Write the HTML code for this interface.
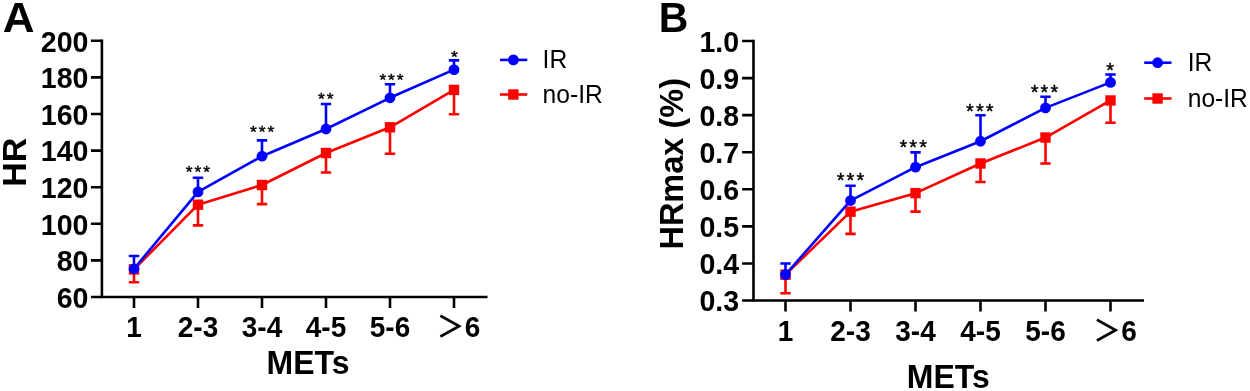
<!DOCTYPE html>
<html><head><meta charset="utf-8"><title>Figure</title>
<style>
html,body{margin:0;padding:0;background:#fff}
svg{display:block}
text{font-family:"Liberation Sans",sans-serif;fill:#000}
.t{font-size:28px;font-weight:700}
.a{font-size:32px;font-weight:700}
.p{font-size:44px;font-weight:700}
.l{font-size:25px}
.s{font-size:21px;stroke:#000;stroke-width:0.4px}
.gt{font-family:"Noto Sans CJK SC","Liberation Sans",sans-serif;font-weight:400;font-size:26.5px;stroke:#000;stroke-width:0.75px}
</style></head><body>
<svg width="1250" height="391" viewBox="0 0 1250 391">
<rect width="1250" height="391" fill="#fff"/>
<path d="M101.9 39.50V297.0H487.5" fill="none" stroke="#000" stroke-width="2.6" stroke-linecap="butt" stroke-linejoin="miter"/>
<path d="M90.90 297.00H101.9M90.90 260.40H101.9M90.90 223.80H101.9M90.90 187.20H101.9M90.90 150.60H101.9M90.90 114.00H101.9M90.90 77.40H101.9M90.90 40.80H101.9M134 297.0V307.90M198 297.0V307.90M262 297.0V307.90M326 297.0V307.90M390 297.0V307.90M454 297.0V307.90" fill="none" stroke="#000" stroke-width="2.6"/>
<text class="t" transform="translate(88.50 307.85) scale(1.02 1.08)" text-anchor="end">60</text>
<text class="t" transform="translate(88.50 271.25) scale(1.02 1.08)" text-anchor="end">80</text>
<text class="t" transform="translate(88.50 234.65) scale(1.02 1.08)" text-anchor="end">100</text>
<text class="t" transform="translate(88.50 198.05) scale(1.02 1.08)" text-anchor="end">120</text>
<text class="t" transform="translate(88.50 161.45) scale(1.02 1.08)" text-anchor="end">140</text>
<text class="t" transform="translate(88.50 124.85) scale(1.02 1.08)" text-anchor="end">160</text>
<text class="t" transform="translate(88.50 88.25) scale(1.02 1.08)" text-anchor="end">180</text>
<text class="t" transform="translate(88.50 51.65) scale(1.02 1.08)" text-anchor="end">200</text>
<text class="t" transform="translate(134.00 336.85) scale(1.0 1.08)" text-anchor="middle">1</text>
<text class="t" transform="translate(198.00 336.85) scale(1.0 1.08)" text-anchor="middle">2-3</text>
<text class="t" transform="translate(262.00 336.85) scale(1.0 1.08)" text-anchor="middle">3-4</text>
<text class="t" transform="translate(326.00 336.85) scale(1.0 1.08)" text-anchor="middle">4-5</text>
<text class="t" transform="translate(390.00 336.85) scale(1.0 1.08)" text-anchor="middle">5-6</text>
<text class="t" transform="translate(458.80 336.85) scale(1.0 1.08)" text-anchor="middle"><tspan class="gt" dy="0.1">＞</tspan><tspan dy="-0.1" dx="1.2">6</tspan></text>
<path d="M134 269.40V282.20M128.8 282.20H139.2M198 204.70V225.40M192.8 225.40H203.2M262 185.00V204.10M256.8 204.10H267.2M326 153.00V172.50M320.8 172.50H331.2M390 127.30V153.70M384.8 153.70H395.2M454 89.90V114.30M448.8 114.30H459.2" fill="none" stroke="#fe0000" stroke-width="2.6"/>
<polyline points="134,269.40 198,204.70 262,185.00 326,153.00 390,127.30 454,89.90" fill="none" stroke="#fe0000" stroke-width="2.6" stroke-linejoin="round"/>
<rect x="128.80" y="264.20" width="10.4" height="10.4" fill="#fe0000"/>
<rect x="192.80" y="199.50" width="10.4" height="10.4" fill="#fe0000"/>
<rect x="256.80" y="179.80" width="10.4" height="10.4" fill="#fe0000"/>
<rect x="320.80" y="147.80" width="10.4" height="10.4" fill="#fe0000"/>
<rect x="384.80" y="122.10" width="10.4" height="10.4" fill="#fe0000"/>
<rect x="448.80" y="84.70" width="10.4" height="10.4" fill="#fe0000"/>
<path d="M134 268.80V256.00M128.8 256.00H139.2M198 191.90V177.80M192.8 177.80H203.2M262 156.20V140.40M256.8 140.40H267.2M326 129.00V104.00M320.8 104.00H331.2M390 97.80V84.20M384.8 84.20H395.2M454 69.60V60.40M448.8 60.40H459.2" fill="none" stroke="#0000fe" stroke-width="2.6"/>
<polyline points="134,268.80 198,191.90 262,156.20 326,129.00 390,97.80 454,69.60" fill="none" stroke="#0000fe" stroke-width="2.6" stroke-linejoin="round"/>
<circle cx="134" cy="268.80" r="5.4" fill="#0000fe"/>
<circle cx="198" cy="191.90" r="5.4" fill="#0000fe"/>
<circle cx="262" cy="156.20" r="5.4" fill="#0000fe"/>
<circle cx="326" cy="129.00" r="5.4" fill="#0000fe"/>
<circle cx="390" cy="97.80" r="5.4" fill="#0000fe"/>
<circle cx="454" cy="69.60" r="5.4" fill="#0000fe"/>
<text class="s" style="font-size:17.4px" x="189.20 197.90 206.60" y="177.75" text-anchor="middle">***</text>
<text class="s" style="font-size:17.4px" x="253.40 262.10 270.80" y="138.45" text-anchor="middle">***</text>
<text class="s" style="font-size:17.4px" x="321.40 330.10" y="104.75" text-anchor="middle">**</text>
<text class="s" style="font-size:17.4px" x="382.80 391.50 400.20" y="85.85" text-anchor="middle">***</text>
<text class="s" style="font-size:17.4px" x="454.50" y="63.05" text-anchor="middle">*</text>
<path d="M500 59.9H527.3" stroke="#0000fe" stroke-width="2.6"/>
<circle cx="513.4" cy="59.9" r="5.4" fill="#0000fe"/>
<text class="l" transform="translate(542.60 68.20) scale(0.985 1)">IR</text>
<path d="M500 94.5H527.3" stroke="#fe0000" stroke-width="2.6"/>
<rect x="508.20" y="89.30" width="10.4" height="10.4" fill="#fe0000"/>
<text class="l" transform="translate(542.60 102.80) scale(0.985 1)">no-IR</text>
<text class="p" transform="translate(2.70 32.40) scale(1 0.985)">A</text>
<text class="a" transform="translate(308.00 374.10) scale(1 1.035)" text-anchor="middle">METs</text>
<text class="a" transform="translate(26.00 162.20) rotate(-90)" text-anchor="middle" style="font-size:34px">HR</text>
<path d="M753.5 39.70V300.55H1144" fill="none" stroke="#000" stroke-width="2.6" stroke-linecap="butt" stroke-linejoin="miter"/>
<path d="M742.10 300.55H753.5M742.10 263.47H753.5M742.10 226.39H753.5M742.10 189.31H753.5M742.10 152.24H753.5M742.10 115.16H753.5M742.10 78.08H753.5M742.10 41.00H753.5M785.5 300.55V311.45M850.5 300.55V311.45M915.5 300.55V311.45M980.5 300.55V311.45M1045.5 300.55V311.45M1110.5 300.55V311.45" fill="none" stroke="#000" stroke-width="2.6"/>
<text class="t" transform="translate(739.10 311.40) scale(1.02 1.08)" text-anchor="end">0.3</text>
<text class="t" transform="translate(739.10 274.32) scale(1.02 1.08)" text-anchor="end">0.4</text>
<text class="t" transform="translate(739.10 237.24) scale(1.02 1.08)" text-anchor="end">0.5</text>
<text class="t" transform="translate(739.10 200.16) scale(1.02 1.08)" text-anchor="end">0.6</text>
<text class="t" transform="translate(739.10 163.09) scale(1.02 1.08)" text-anchor="end">0.7</text>
<text class="t" transform="translate(739.10 126.01) scale(1.02 1.08)" text-anchor="end">0.8</text>
<text class="t" transform="translate(739.10 88.93) scale(1.02 1.08)" text-anchor="end">0.9</text>
<text class="t" transform="translate(739.10 51.85) scale(1.02 1.08)" text-anchor="end">1.0</text>
<text class="t" transform="translate(785.50 341.05) scale(1.0 1.08)" text-anchor="middle">1</text>
<text class="t" transform="translate(850.50 341.05) scale(1.0 1.08)" text-anchor="middle">2-3</text>
<text class="t" transform="translate(915.50 341.05) scale(1.0 1.08)" text-anchor="middle">3-4</text>
<text class="t" transform="translate(980.50 341.05) scale(1.0 1.08)" text-anchor="middle">4-5</text>
<text class="t" transform="translate(1045.50 341.05) scale(1.0 1.08)" text-anchor="middle">5-6</text>
<text class="t" transform="translate(1115.30 341.05) scale(1.0 1.08)" text-anchor="middle"><tspan class="gt" dy="-0.5">＞</tspan><tspan dy="0.5" dx="1.2">6</tspan></text>
<path d="M785.5 274.66V293.19M780.3 293.19H790.7M850.5 211.66V233.89M845.3 233.89H855.7M915.5 193.13V211.66M910.3 211.66H920.7M980.5 163.48V182.01M975.3 182.01H985.7M1045.5 137.54V163.48M1040.3 163.48H1050.7M1110.5 100.48V122.71M1105.3 122.71H1115.7" fill="none" stroke="#fe0000" stroke-width="2.6"/>
<polyline points="785.5,274.66 850.5,211.66 915.5,193.13 980.5,163.48 1045.5,137.54 1110.5,100.48" fill="none" stroke="#fe0000" stroke-width="2.6" stroke-linejoin="round"/>
<rect x="780.30" y="269.46" width="10.4" height="10.4" fill="#fe0000"/>
<rect x="845.30" y="206.46" width="10.4" height="10.4" fill="#fe0000"/>
<rect x="910.30" y="187.93" width="10.4" height="10.4" fill="#fe0000"/>
<rect x="975.30" y="158.28" width="10.4" height="10.4" fill="#fe0000"/>
<rect x="1040.30" y="132.34" width="10.4" height="10.4" fill="#fe0000"/>
<rect x="1105.30" y="95.28" width="10.4" height="10.4" fill="#fe0000"/>
<path d="M785.5 274.66V263.54M780.3 263.54H790.7M850.5 200.54V185.71M845.3 185.71H855.7M915.5 167.18V152.36M910.3 152.36H920.7M980.5 141.24V115.30M975.3 115.30H985.7M1045.5 107.89V96.77M1040.3 96.77H1050.7M1110.5 82.39V74.53M1105.3 74.53H1115.7" fill="none" stroke="#0000fe" stroke-width="2.6"/>
<polyline points="785.5,274.66 850.5,200.54 915.5,167.18 980.5,141.24 1045.5,107.89 1110.5,82.39" fill="none" stroke="#0000fe" stroke-width="2.6" stroke-linejoin="round"/>
<circle cx="785.5" cy="274.66" r="5.4" fill="#0000fe"/>
<circle cx="850.5" cy="200.54" r="5.4" fill="#0000fe"/>
<circle cx="915.5" cy="167.18" r="5.4" fill="#0000fe"/>
<circle cx="980.5" cy="141.24" r="5.4" fill="#0000fe"/>
<circle cx="1045.5" cy="107.89" r="5.4" fill="#0000fe"/>
<circle cx="1110.5" cy="82.39" r="5.4" fill="#0000fe"/>
<text class="s" style="font-size:20px" x="840.60 850.50 860.40" y="186.90" text-anchor="middle">***</text>
<text class="s" style="font-size:20px" x="903.35 913.25 923.15" y="154.10" text-anchor="middle">***</text>
<text class="s" style="font-size:20px" x="969.90 979.80 989.70" y="117.50" text-anchor="middle">***</text>
<text class="s" style="font-size:20px" x="1034.60 1044.50 1054.40" y="98.80" text-anchor="middle">***</text>
<text class="s" style="font-size:20px" x="1110.10" y="76.60" text-anchor="middle">*</text>
<path d="M1144.2 62.7H1171.5" stroke="#0000fe" stroke-width="2.6"/>
<circle cx="1157.6000000000001" cy="62.7" r="5.4" fill="#0000fe"/>
<text class="l" transform="translate(1187.70 71.00) scale(0.985 1)">IR</text>
<path d="M1144.2 98.5H1171.5" stroke="#fe0000" stroke-width="2.6"/>
<rect x="1152.40" y="93.30" width="10.4" height="10.4" fill="#fe0000"/>
<text class="l" transform="translate(1187.70 106.80) scale(0.985 1)">no-IR</text>
<text class="p" transform="translate(658.80 32.40) scale(0.93 0.985)">B</text>
<text class="a" transform="translate(948.30 387.70) scale(1 1.035)" text-anchor="middle">METs</text>
<text class="a" transform="translate(682.80 163.80) rotate(-90)" text-anchor="middle" style="font-size:32.5px">HRmax (%)</text>
</svg>
</body></html>
